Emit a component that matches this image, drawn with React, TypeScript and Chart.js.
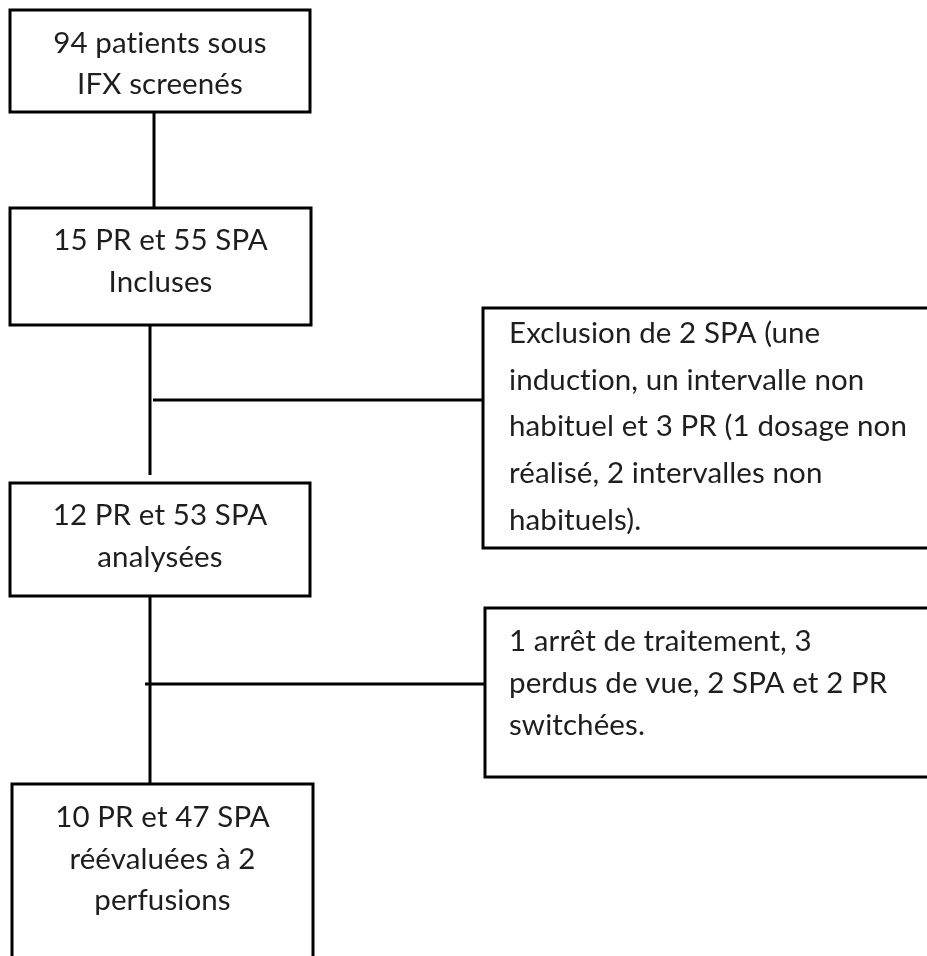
import React, { useEffect, useRef } from "react";
import { Chart, registerables } from "chart.js";
Chart.register(...registerables);

// ---- Flowchart content ----
const boxLines: string[][] = [
  ["94 patients sous", "IFX screenés"],
  ["15 PR et 55 SPA", "Incluses"],
  [
    "Exclusion de 2 SPA (une",
    "induction, un intervalle non",
    "habituel et 3 PR (1 dosage non",
    "réalisé, 2 intervalles non",
    "habituels).",
  ],
  ["12 PR et 53 SPA", "analysées"],
  ["1 arrêt de traitement, 3", "perdus de vue, 2 SPA et 2 PR", "switchées."],
  ["10 PR et 47 SPA", "réévaluées à 2", "perfusions"],
];
const boxAlign = ["center", "center", "left", "center", "left", "center"];

// box extents (in diagram units, y grows downward)
const boxLeft = [10, 10, 483, 10, 485, 12];
const boxRight = [310, 311, 932, 310, 932, 313];
const boxTop = [10, 208, 308, 483, 608, 784];
const boxBottom = [112, 325, 548, 596, 777, 980];

// text baselines
const textFirstBaseline = [53, 250, 343, 525, 651, 827];
const textLineGap = [41, 41.5, 46.7, 41.5, 42, 41.5];
const textLeftX = [0, 0, 509, 0, 509, 0];

// connectors
const connX1 = [154, 150, 153, 150, 145];
const connY1 = [112, 325, 400, 596, 684];
const connX2 = [154, 150, 483, 150, 485];
const connY2 = [208, 475, 400, 784, 684];

const W = 927;
const H = 956;
const FONT = '29.5px "Lato"';
const TEXT_COLOR = "#1e1e1e";
const LINE_W = 3;

const textPlugin = {
  id: "boxText",
  afterDatasetsDraw(chart: any) {
    const { ctx, scales } = chart;
    const xs = scales.x;
    const ys = scales.y;
    ctx.save();
    ctx.font = FONT;
    try {
      (ctx as any).letterSpacing = "0.1px"; // avoid "ti" ligatures
    } catch (e) {}
    ctx.fillStyle = TEXT_COLOR;
    ctx.textBaseline = "alphabetic";
    boxLines.forEach((lines, i) => {
      const align = boxAlign[i];
      ctx.textAlign = align === "center" ? "center" : "left";
      const xVal = align === "center" ? (boxLeft[i] + boxRight[i]) / 2 : textLeftX[i];
      const px = xs.getPixelForValue(xVal);
      lines.forEach((line, j) => {
        const py = ys.getPixelForValue(textFirstBaseline[i] + j * textLineGap[i]);
        ctx.fillText(line, px, py);
      });
    });
    ctx.restore();
  },
};

export default function App() {
  const ref = useRef<HTMLCanvasElement>(null);
  useEffect(() => {
    const canvas = ref.current!;
    const datasets: any[] = [];
    boxLines.forEach((_, i) => {
      datasets.push({
        label: "box" + i,
        data: [
          { x: boxLeft[i], y: boxTop[i] },
          { x: boxRight[i], y: boxTop[i] },
          { x: boxRight[i], y: boxBottom[i] },
          { x: boxLeft[i], y: boxBottom[i] },
          { x: boxLeft[i], y: boxTop[i] },
          { x: boxRight[i], y: boxTop[i] },
        ],
        showLine: true,
        borderColor: "#000",
        borderWidth: LINE_W,
        pointRadius: 0,
        fill: false,
        tension: 0,
        borderJoinStyle: "miter",
      });
    });
    connX1.forEach((_, i) => {
      datasets.push({
        label: "conn" + i,
        data: [
          { x: connX1[i], y: connY1[i] },
          { x: connX2[i], y: connY2[i] },
        ],
        showLine: true,
        borderColor: "#000",
        borderWidth: LINE_W,
        pointRadius: 0,
        fill: false,
      });
    });
    const chart = new Chart(canvas, {
      type: "scatter",
      data: { datasets },
      options: {
        animation: false,
        responsive: false,
        devicePixelRatio: 1,
        layout: { padding: 0 },
        plugins: { legend: { display: false }, tooltip: { enabled: false } },
        events: [],
        scales: {
          x: { type: "linear", min: 0, max: W, display: false },
          y: { type: "linear", min: 0, max: H, reverse: true, display: false },
        },
      },
      plugins: [textPlugin],
    });
    return () => chart.destroy();
  }, []);
  return (
    <div style={{ position: "absolute", left: 0, top: 0, width: W, height: H, background: "#fff" }}>
      <canvas ref={ref} width={W} height={H} style={{ display: "block" }} />
    </div>
  );
}
